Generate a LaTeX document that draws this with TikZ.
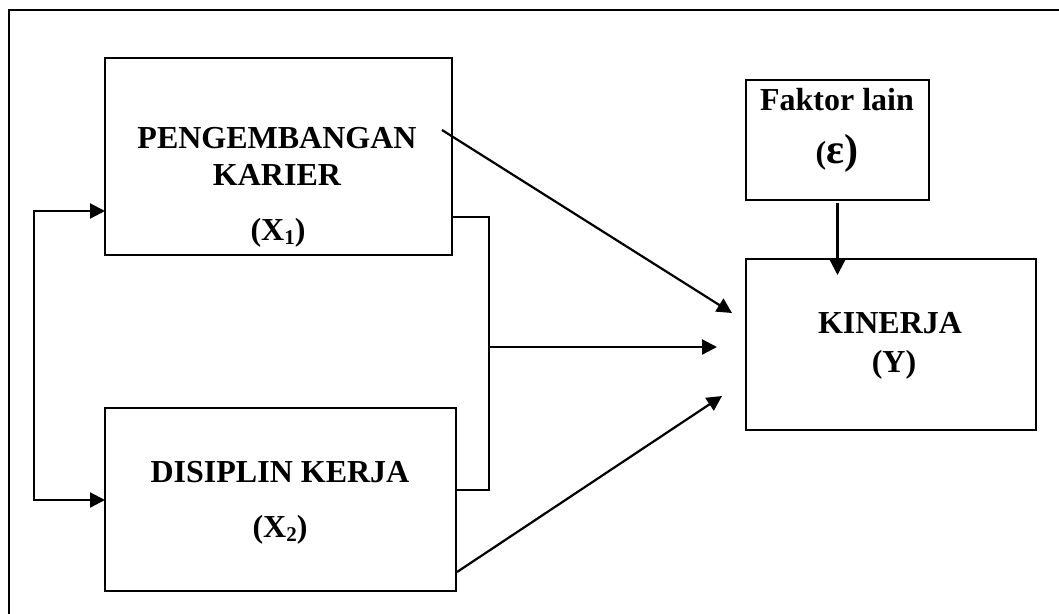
\documentclass[tikz,border=0pt]{standalone}
\usepackage{fontspec}
\setmainfont{Liberation Serif}
\usetikzlibrary{arrows.meta}

\newcommand{\sbs}[1]{\raisebox{-4pt}{\fontsize{21}{21}\selectfont #1}}

\begin{document}
\begin{tikzpicture}[x=1pt, y=-1pt,
  box/.style = {draw, line width=1.6pt, inner sep=0pt, outer sep=0pt},
  txt/.style = {anchor=base, inner sep=0pt, font=\fontsize{32}{38}\selectfont\bfseries},
  arr/.style = {line width=2.2pt, -{Triangle[length=15pt,width=15pt]}},
  ln/.style = {line width=2.2pt}]
\useasboundingbox (0,0) rectangle (1059,613);
\draw[line width=1.6pt] (9,640) -- (9,10) -- (1080,10);
% boxes
\node[box, minimum width=347pt, minimum height=197pt] (x1) at (278.5,156.5) {};
\node[box, minimum width=351pt, minimum height=183pt] (x2) at (280.5,499.5) {};
\node[box, minimum width=183pt, minimum height=120pt] (fl) at (837.5,140) {};
\node[box, minimum width=290pt, minimum height=171pt] (ky) at (891,344.5) {};
% texts
\node[txt] (t1a) at (277,148) {PENGEMBANGAN};
\node[txt] (t1b) at (277,185) {KARIER};
\node[txt] (t1c) at (278,240) {(X\sbs{1})};
\node[txt] (t2a) at (280,482) {DISIPLIN KERJA};
\node[txt] (t2b) at (280,537) {(X\sbs{2})};
\node[txt] (tfa) at (837,110) {Faktor lain};
\node[txt] (tfb) at (837,163) {(\fontsize{42}{42}\selectfont ε)};
\node[txt] (tya) at (890,333) {KINERJA};
\node[txt] (tyb) at (894,372) {(Y)};
% connectors
\coordinate (fbt) at (34,211);
\coordinate (fbb) at (34,500);
\draw[ln, {Triangle[length=15pt,width=15pt]}-{Triangle[length=15pt,width=15pt]}]
  (x1.west |- fbt) -- (fbt) -- (fbb) -- (x2.west |- fbb);
\coordinate (br) at (489,217);
\coordinate (bb) at (489,490);
\draw[line width=1.6pt] (x1.east |- br) -- (br) -- (bb) -- (x2.east |- bb);
\coordinate (bm) at (489,347);
\coordinate (e1) at (442,130);
\coordinate (e2) at (457,572);
\draw[arr] (bm) -- (717,347);
\draw[arr] (e1) -- (732,313);
\draw[arr] (e2) -- (722,396);
\draw[arr] ([yshift=-3pt]fl.south) -- ([yshift=-16pt]ky.north -| fl.south);
\end{tikzpicture}
\end{document}
